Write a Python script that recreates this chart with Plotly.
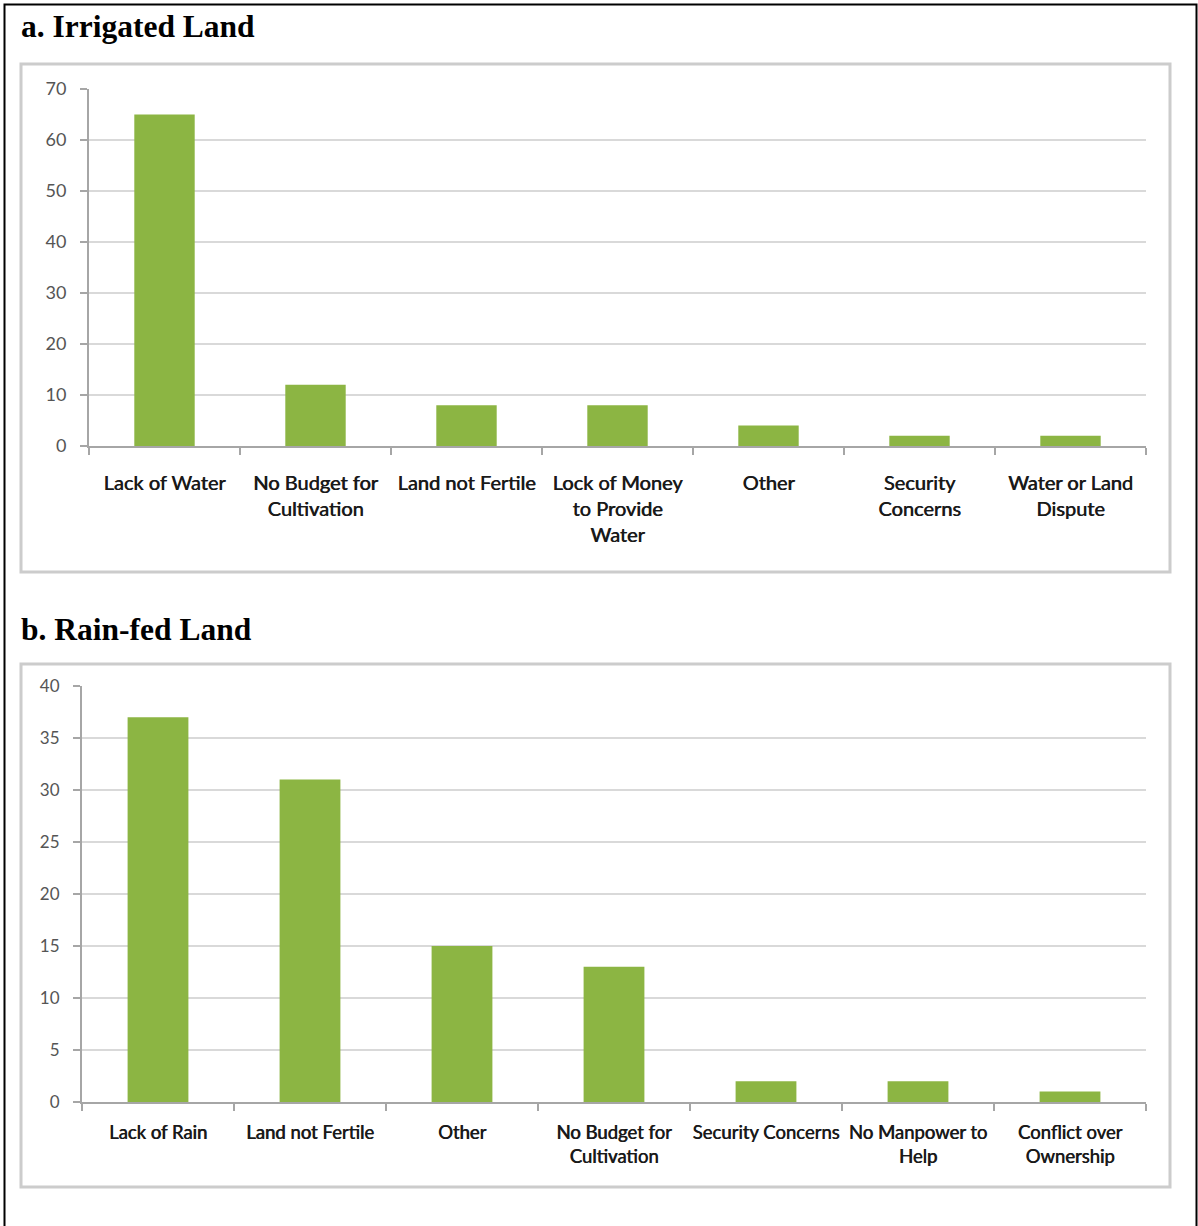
import plotly.graph_objects as go

W, H = 1198, 1226

# Data
irrigated_categories = ["Lack of Water", "No Budget for<br>Cultivation", "Land not Fertile",
                        "Lock of Money<br>to Provide<br>Water", "Other", "Security<br>Concerns",
                        "Water or Land<br>Dispute"]
irrigated_values = [65, 12, 8, 8, 4, 2, 2]

rainfed_categories = ["Lack of Rain", "Land not Fertile", "Other", "No Budget for<br>Cultivation",
                      "Security Concerns", "No Manpower to<br>Help", "Conflict over<br>Ownership"]
rainfed_values = [37, 31, 15, 13, 2, 2, 1]

title_a = "a. Irrigated Land"
title_b = "b. Rain-fed Land"

BAR = "#8cb543"
GRID = "#d9d9d9"
AXIS = "#a6a6a6"


def xp(x):
    return x / W


def yp(y):
    return 1 - y / H


fig = go.Figure()
fig.add_trace(go.Bar(x=irrigated_categories, y=irrigated_values, marker=dict(color=BAR, line=dict(width=0)),
                     xaxis="x", yaxis="y", hoverinfo="x+y"))
fig.add_trace(go.Bar(x=rainfed_categories, y=rainfed_values, marker=dict(color=BAR, line=dict(width=0)),
                     xaxis="x2", yaxis="y2", hoverinfo="x+y"))


def xaxis_style(size, standoff):
    return dict(type="category", showgrid=False, showline=True, linecolor=AXIS, linewidth=2,
                ticks="outside", tickson="boundaries", ticklen=7, tickwidth=2, tickcolor=AXIS,
                tickfont=dict(family="Lato", size=size, color="#1a1a1a",
                              shadow="0.6px 0 0 #1a1a1a"), tickangle=0,
                ticklabelstandoff=standoff, fixedrange=True, zeroline=False, automargin=False)


def yaxis_style(size):
    return dict(showgrid=True, gridcolor=GRID, gridwidth=2, showline=True, linecolor=AXIS,
                linewidth=2, ticks="outside", ticklen=7, tickwidth=2, tickcolor=AXIS,
                tickfont=dict(family="Lato", size=size, color="#555555"), zeroline=False,
                fixedrange=True, ticklabelstandoff=10, automargin=False)


fig.update_layout(
    template="none",
    width=W, height=H, autosize=False,
    margin=dict(l=0, r=0, t=0, b=0, pad=0),
    paper_bgcolor="white", plot_bgcolor="white",
    showlegend=False, bargap=0.6,
    xaxis=dict(domain=[xp(89), xp(1146)], anchor="y", **xaxis_style(20, 18)),
    yaxis=dict(domain=[yp(446), yp(89)], anchor="x", range=[0, 70], dtick=10, **yaxis_style(18)),
    xaxis2=dict(domain=[xp(82), xp(1146)], anchor="y2", **xaxis_style(18.5, 13)),
    yaxis2=dict(domain=[yp(1102), yp(686)], anchor="x2", range=[0, 40], dtick=5, **yaxis_style(17)),
)

shapes = []
# outer black frame (bottom extends below page)
shapes.append(dict(type="path", xref="paper", yref="paper",
                   path=f"M {xp(4.5)},{yp(1240)} L {xp(4.5)},{yp(4.5)} L {xp(1196.5)},{yp(4.5)} L {xp(1196.5)},{yp(1240)}",
                   line=dict(color="black", width=2)))
# panel boxes
for (x0, y0, x1, y1) in [(21, 64, 1170, 572), (21, 664, 1170, 1187)]:
    shapes.append(dict(type="rect", xref="paper", yref="paper", x0=xp(x0), y0=yp(y1), x1=xp(x1), y1=yp(y0),
                       line=dict(color="#cccccc", width=3), fillcolor="rgba(0,0,0,0)", layer="below"))
fig.update_layout(shapes=shapes)

tfont = dict(family="Liberation Serif", size=31.5, color="black", weight="bold")
fig.add_annotation(text=title_a, xref="paper", yref="paper", x=xp(19), y=yp(27), xanchor="left",
                   yanchor="middle", showarrow=False, font=tfont)
fig.add_annotation(text=title_b, xref="paper", yref="paper", x=xp(19), y=yp(629), xanchor="left",
                   yanchor="middle", showarrow=False, font=tfont)

fig.write_html("out.html", config={"displayModeBar": False, "responsive": False})
